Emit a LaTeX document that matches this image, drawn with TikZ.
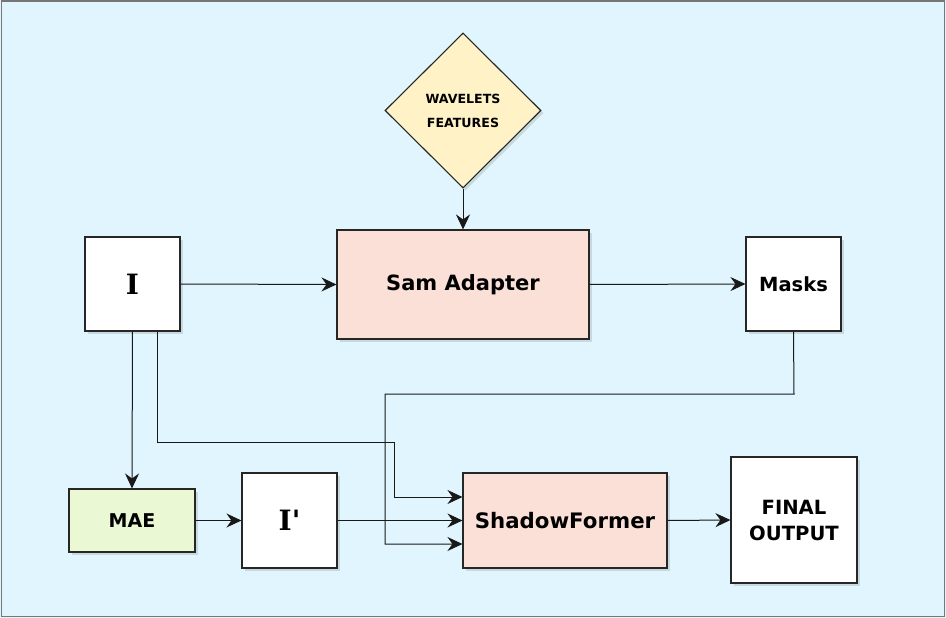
\documentclass[tikz,border=0pt]{standalone}
\usepackage{fontspec}
\setmainfont{DejaVu Sans}
\newfontfamily\serifb{DejaVu Serif}
\usetikzlibrary{arrows.meta,shapes.geometric,shadows}
\definecolor{bgblue}{HTML}{E0F5FD}
\definecolor{pinkfill}{HTML}{FBE0D8}
\definecolor{yellowfill}{HTML}{FFF2C6}
\definecolor{greenfill}{HTML}{EAF8D4}
\definecolor{framegray}{HTML}{777777}
\tikzset{
  box/.style={draw=black!85, line width=1.1pt, inner sep=0pt, font=\bfseries,
    drop shadow={shadow xshift=2.5pt, shadow yshift=-2.5pt, opacity=0.2, fill=black!60}},
  conn/.style={draw=black!90, line width=1pt, -{Stealth[length=15pt,width=14pt,inset=5pt]}},
}
\begin{document}
\begin{tikzpicture}[x=1pt,y=-1pt]
\useasboundingbox (0,0) rectangle (946,618);
\fill[bgblue] (0,0) rectangle (946,618);
\draw[framegray, line width=1.5pt] (1.5,1) rectangle (944.5,616.5);

% nodes
\node[box, diamond, fill=yellowfill, minimum width=156pt, minimum height=155pt, align=center, font=\bfseries\fontsize{12.6}{24}\selectfont] (wf) at (463,110.5) {WAVELETS\\FEATURES};
\node[box, fill=pinkfill, minimum width=252pt, minimum height=109pt, font=\bfseries\fontsize{21}{25}\selectfont] (sam) at (463,284.5) {Sam Adapter};
\node[box, fill=white, minimum width=95pt, minimum height=94pt, font=\serifb\bfseries\fontsize{28}{32}\selectfont] (I) at (132.5,284) {I};
\node[box, fill=white, minimum width=95pt, minimum height=94pt, font=\bfseries\fontsize{19.5}{23}\selectfont] (masks) at (793.5,284) {Masks};
\node[box, fill=greenfill, minimum width=126pt, minimum height=63pt, font=\bfseries\fontsize{19}{22}\selectfont] (mae) at (132,520.5) {MAE};
\node[box, fill=white, minimum width=95pt, minimum height=95pt, font=\serifb\bfseries\fontsize{28}{32}\selectfont] (Ip) at (289.5,520.5) {I'};
\node[box, fill=pinkfill, minimum width=204pt, minimum height=95pt, font=\bfseries\fontsize{21.3}{25}\selectfont] (sf) at (565,520.5) {ShadowFormer};
\node[box, fill=white, minimum width=126pt, minimum height=126pt, align=center, font=\bfseries\fontsize{19.6}{26}\selectfont] (fo) at (794,520) {FINAL\\OUTPUT};

\coordinate (a1) at (157,442);
\coordinate (a2) at (394,442);
\coordinate (a3) at (394,497);
\coordinate (m1) at (794,394);
\coordinate (m2) at (385,394);
\coordinate (m3) at (385,544);

% connectors
\draw[conn] (wf.south) -- (sam.north);
\draw[conn] (I.east) -- (sam.west);
\draw[conn] (sam.east) -- (masks.west);
\draw[conn] (I.south) -- (mae.north);
\draw[conn] (I.south -| a1) -- (a1) -- (a2) -- (a3) -- (a3 -| sf.west);
\draw[conn] (masks.south) -- (m1) -- (m2) -- (m3) -- (m3 -| sf.west);
\draw[conn] (mae.east) -- (Ip.west);
\draw[conn] (Ip.east) -- (sf.west);
\draw[conn] (sf.east) -- (fo.west);
\end{tikzpicture}
\end{document}
